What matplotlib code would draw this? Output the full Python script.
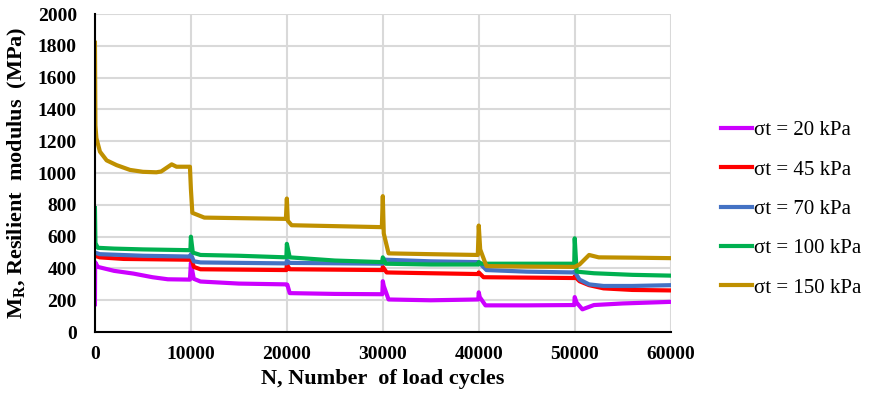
import numpy as np
import matplotlib
matplotlib.use("Agg")
import matplotlib.pyplot as plt

# resilient modulus vs number of load cycles
labels = ["σt = 20 kPa", "σt = 45 kPa", "σt = 70 kPa", "σt = 100 kPa", "σt = 150 kPa"]
colors = ["#CC00FF", "#FF0000", "#4472C4", "#00B050", "#BF9000"]

n_20 = [0, 20, 300, 2000, 4000, 6000, 7600, 9900, 10000, 10300, 11000, 15000, 19950,
        20050, 20300, 25000, 29950, 30000, 30100, 30600, 35000, 39950, 40000, 40100,
        40700, 45000, 49950, 50000, 50200, 50800, 52000, 55000, 60000]
mr_20 = [175, 440, 410, 385, 368, 345, 332, 330, 434, 335, 318, 305, 300,
         298, 245, 240, 238, 320, 290, 205, 200, 205, 250, 220,
         168, 168, 170, 220, 185, 143, 170, 180, 190]

n_45 = [0, 500, 3000, 9950, 10000, 10300, 11000, 19950, 20000, 20300, 29950, 30000,
        30400, 35000, 39950, 40000, 40500, 49950, 50000, 50500, 51500, 53000, 56000, 60000]
mr_45 = [480, 470, 460, 455, 470, 410, 395, 390, 425, 395, 390, 410,
         375, 370, 365, 375, 345, 340, 350, 320, 295, 275, 265, 262]

n_70 = [0, 500, 5000, 9950, 10000, 10300, 11000, 19950, 20000, 20300, 29950, 30000,
        30300, 35000, 39950, 40000, 40800, 45000, 49950, 50000, 50500, 51500, 53000,
        56000, 60000]
mr_70 = [500, 490, 480, 475, 490, 445, 438, 432, 450, 435, 430, 460,
         455, 445, 440, 440, 390, 380, 375, 380, 330, 300, 290,
         290, 295]

n_100 = [0, 50, 300, 2000, 5000, 9950, 10000, 10200, 11000, 15000, 19950, 20000,
         20300, 25000, 29950, 30000, 30300, 35000, 39950, 40000, 40300, 45000, 49950,
         50000, 50200, 52000, 56000, 60000]
mr_100 = [780, 560, 530, 525, 520, 515, 600, 500, 485, 480, 470, 555,
          470, 450, 440, 470, 430, 425, 425, 440, 430, 430, 430,
          590, 380, 370, 360, 355]

n_150 = [0, 50, 150, 520, 1220, 2260, 3650, 5000, 6400, 6900, 8000, 8500, 9900,
         10000, 10150, 11400, 19900, 20000, 20100, 20500, 29900, 30000, 30100, 30600,
         35000, 39900, 40000, 40150, 40800, 45000, 49900, 50000, 50500, 51500, 52500,
         56000, 60000]
mr_150 = [1820, 1300, 1220, 1135, 1080, 1050, 1020, 1008, 1005, 1010, 1055, 1040, 1040,
          900, 750, 720, 712, 840, 700, 672, 660, 855, 620, 495,
          490, 485, 670, 520, 415, 412, 410, 410, 425, 485, 470,
          468, 465]

series_n = [n_20, n_45, n_70, n_100, n_150]
series_mr = [mr_20, mr_45, mr_70, mr_100, mr_150]

fig = plt.figure(figsize=(8.71, 4.03), dpi=100)
ax = fig.add_axes([0.109, 0.176, 0.661, 0.789])

for n, mr, c, lab in zip(series_n, series_mr, colors, labels):
    ax.plot(n, mr, color=c, lw=3, label=lab, solid_joinstyle="round")

ax.set_xlim(0, 60000)
ax.set_ylim(0, 2000)
ax.set_xticks(np.arange(0, 60001, 10000))
ax.set_yticks(np.arange(0, 2001, 200))
ax.grid(True, color="#d9d9d9", lw=1.5)
ax.set_axisbelow(True)
for s in ["top", "right"]:
    ax.spines[s].set_visible(False)
ax.spines["left"].set_linewidth(1.5)
ax.spines["bottom"].set_linewidth(1.5)
ax.tick_params(length=0, labelsize=14, pad=10)
ax.tick_params(axis="y", pad=13)
for t in ax.get_xticklabels() + ax.get_yticklabels():
    t.set_fontfamily("Liberation Serif")
    t.set_fontweight("bold")

ax.set_xlabel("N, Number  of load cycles", fontsize=16, fontweight="bold",
              family="Liberation Serif", labelpad=4)
ax.set_ylabel(r"M$_\mathregular{R}$, Resilient  modulus  (MPa)", fontsize=16,
              fontweight="bold", family="Liberation Serif", labelpad=6)

leg = ax.legend(loc="center left", bbox_to_anchor=(0.806, 0.481),
                bbox_transform=fig.transFigure, frameon=False,
                prop={"family": "Liberation Serif", "size": 15},
                handlelength=1.5, handletextpad=0.1, labelspacing=0.95)
for h in leg.get_lines():
    h.set_linewidth(3)

fig.savefig("out.png", dpi=100)
